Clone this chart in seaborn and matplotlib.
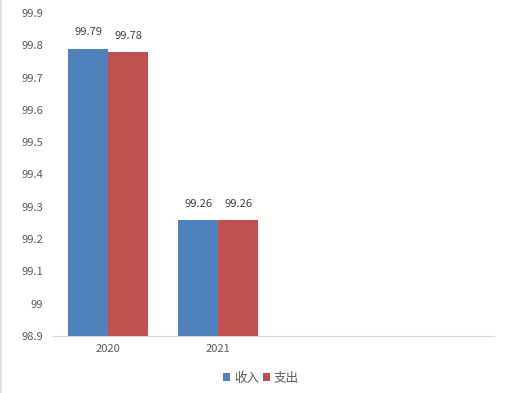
import matplotlib
matplotlib.use("Agg")
import matplotlib.pyplot as plt
from matplotlib.lines import Line2D
import pandas as pd
import seaborn as sns

# === Data ===
years = ["2020", "2021"]
income = [99.79, 99.26]
spending = [99.78, 99.26]
series_names = ["收入", "支出"]
yticks = [98.9, 99.0, 99.1, 99.2, 99.3, 99.4, 99.5, 99.6, 99.7, 99.8, 99.9]
ytick_labels = ["98.9", "99", "99.1", "99.2", "99.3", "99.4", "99.5", "99.6", "99.7", "99.8", "99.9"]

df = pd.DataFrame({
    "year": years * 2,
    "value": income + spending,
    "series": [series_names[0]] * len(years) + [series_names[1]] * len(years),
})

# === Style ===
sns.set_style("white")
plt.rcParams["font.family"] = ["Noto Sans CJK SC", "DejaVu Sans"]
text_color = "#595959"

fig = plt.figure(figsize=(5.32, 3.93), dpi=100)
ax = fig.add_axes([0.0996, 0.145, 0.829, 0.822])

# two empty slots keep the category spacing of the original chart
order = years + ["_a", "_b"]
sns.barplot(data=df, x="year", y="value", hue="series", order=order,
            hue_order=series_names, palette=["#4F81BD", "#C0504D"],
            width=0.727, gap=0, ax=ax, errorbar=None, saturation=1,
            linewidth=0, edgecolor="none")

ax.set_ylim(98.9, 99.9)
ax.set_xlim(-0.5, 3.5)
ax.set_yticks(yticks)
ax.set_yticklabels(ytick_labels)
ax.set_xticks([0, 1])
ax.set_xticklabels(years)
ax.tick_params(axis="both", length=0, labelsize=8, colors=text_color)
ax.tick_params(axis="y", pad=7)
ax.tick_params(axis="x", pad=6)
ax.set_xlabel("")
ax.set_ylabel("")

for side in ["top", "right", "left"]:
    ax.spines[side].set_visible(False)
ax.spines["bottom"].set_color("#d9d9d9")

for container in ax.containers:
    ax.bar_label(container, fmt="%.2f", padding=8, fontsize=8, color="#404040")

handles, labels = ax.get_legend_handles_labels()
ax.get_legend().remove()
fig.legend(handles, labels, loc="center", bbox_to_anchor=(0.49, 0.038), ncol=2,
           frameon=False, fontsize=9, handlelength=0.6, handleheight=0.6,
           handletextpad=0.3, columnspacing=0.3, labelcolor=text_color)

fig.add_artist(Line2D([0.001, 0.001], [0, 1], color="#d9d9d9", lw=1.2,
                      transform=fig.transFigure))

fig.savefig("out.png", dpi=100)
